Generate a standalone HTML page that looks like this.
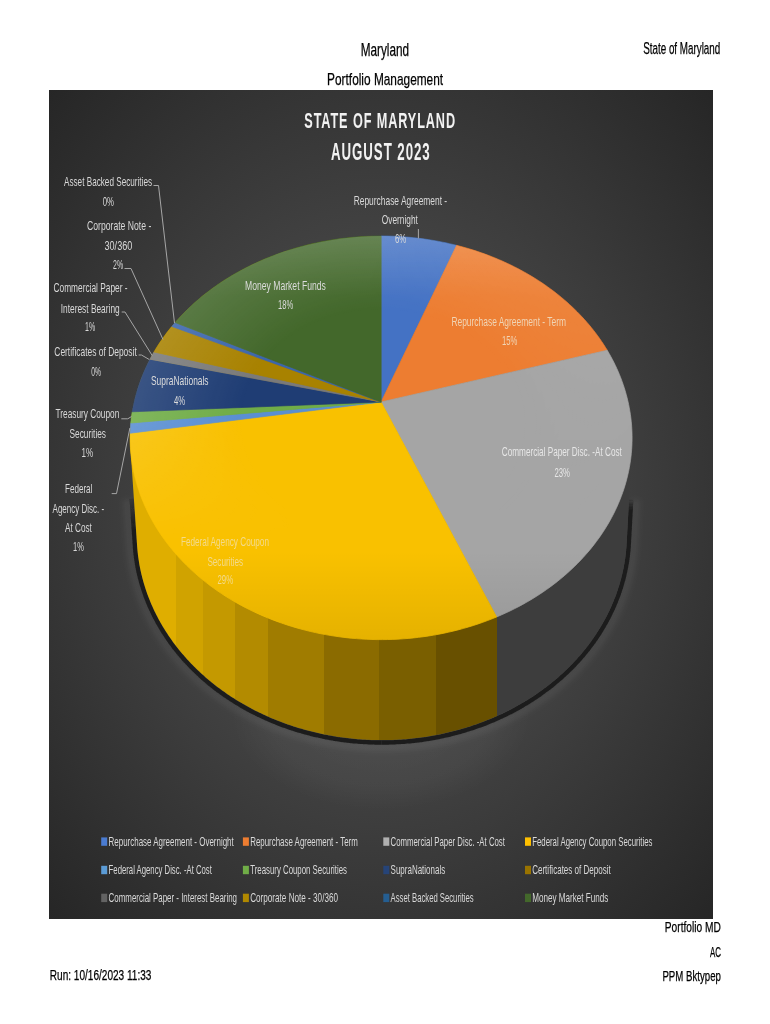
<!DOCTYPE html><html><head><meta charset="utf-8"><style>html,body{margin:0;padding:0;background:#fff;}svg{display:block;will-change:transform;}text{font-family:"Liberation Sans",sans-serif;}</style></head><body>
<svg width="770" height="1024" viewBox="0 0 770 1024">
<defs>
<radialGradient id="bg" cx="0.5" cy="0.5" r="0.7071" fx="0.5" fy="0.5"><stop offset="0" stop-color="#595959"/><stop offset="1" stop-color="#262626"/></radialGradient>
<linearGradient id="side" gradientUnits="userSpaceOnUse" x1="125" y1="0" x2="640" y2="0"><stop offset="0.0097" stop-color="#dfae00"/><stop offset="0.0981" stop-color="#dfae00"/><stop offset="0.0981" stop-color="#d0a300"/><stop offset="0.1509" stop-color="#d0a300"/><stop offset="0.1509" stop-color="#c49900"/><stop offset="0.2140" stop-color="#c49900"/><stop offset="0.2140" stop-color="#b38b00"/><stop offset="0.2771" stop-color="#b38b00"/><stop offset="0.2771" stop-color="#a07c00"/><stop offset="0.3872" stop-color="#a07c00"/><stop offset="0.3872" stop-color="#8b6b00"/><stop offset="0.4932" stop-color="#8b6b00"/><stop offset="0.4932" stop-color="#7a5f00"/><stop offset="0.6045" stop-color="#7a5f00"/><stop offset="0.6045" stop-color="#685000"/><stop offset="0.7219" stop-color="#685000"/><stop offset="0.7219" stop-color="#3d3d3d"/><stop offset="1.0000" stop-color="#3d3d3d"/><stop offset="1.0000" stop-color="#3d3d3d"/></linearGradient>
<filter id="blur1" x="-10%" y="-10%" width="120%" height="120%"><feGaussianBlur stdDeviation="0.5"/></filter>
<radialGradient id="glow"><stop offset="0" stop-color="#fff" stop-opacity="0.05"/><stop offset="0.75" stop-color="#fff" stop-opacity="0.03"/><stop offset="1" stop-color="#fff" stop-opacity="0"/></radialGradient>
<filter id="blur3" x="-10%" y="-10%" width="120%" height="120%"><feGaussianBlur stdDeviation="2.5"/></filter>
<linearGradient id="lit" gradientUnits="userSpaceOnUse" x1="0" y1="236" x2="0" y2="640"><stop offset="0" stop-color="#fff" stop-opacity="0.08"/><stop offset="0.15" stop-color="#fff" stop-opacity="0"/><stop offset="0.78" stop-color="#000" stop-opacity="0"/><stop offset="1" stop-color="#000" stop-opacity="0.08"/></linearGradient>
<radialGradient id="rimW" gradientUnits="userSpaceOnUse" cx="381.1" cy="437.8" r="251.0" fx="381.1" fy="393.27" gradientTransform="translate(381.1,437.8) scale(1,0.80398) translate(-381.1,-437.8)"><stop offset="0" stop-color="#fff" stop-opacity="0"/><stop offset="0.55" stop-color="#fff" stop-opacity="0"/><stop offset="1" stop-color="#fff" stop-opacity="0.12"/></radialGradient>
<radialGradient id="cenD" gradientUnits="userSpaceOnUse" cx="381.1" cy="437.8" r="251.0" fx="381.1" fy="393.27" gradientTransform="translate(381.1,437.8) scale(1,0.80398) translate(-381.1,-437.8)"><stop offset="0" stop-color="#000" stop-opacity="0.07"/><stop offset="0.5" stop-color="#000" stop-opacity="0"/></radialGradient>
<linearGradient id="bmg" gradientUnits="userSpaceOnUse" x1="0" y1="420" x2="0" y2="540"><stop offset="0" stop-color="#fff"/><stop offset="1" stop-color="#000"/></linearGradient>
<mask id="bm" maskUnits="userSpaceOnUse" x="0" y="0" width="770" height="1024"><rect x="0" y="0" width="770" height="1024" fill="url(#bmg)"/></mask>
<linearGradient id="dmg" gradientUnits="userSpaceOnUse" x1="200" y1="250" x2="600" y2="520"><stop offset="0" stop-color="#fff"/><stop offset="0.3" stop-color="#fff"/><stop offset="1" stop-color="#000"/></linearGradient>
<mask id="dm" maskUnits="userSpaceOnUse" x="0" y="0" width="770" height="1024"><rect x="0" y="0" width="770" height="1024" fill="url(#dmg)"/></mask>
<linearGradient id="shgL" gradientUnits="userSpaceOnUse" x1="0" y1="488" x2="0" y2="530"><stop offset="0" stop-color="#1c1c1c" stop-opacity="0"/><stop offset="1" stop-color="#1c1c1c" stop-opacity="1"/></linearGradient>
<linearGradient id="shgR" gradientUnits="userSpaceOnUse" x1="0" y1="499" x2="0" y2="510"><stop offset="0" stop-color="#1c1c1c" stop-opacity="0"/><stop offset="1" stop-color="#1c1c1c" stop-opacity="1"/></linearGradient>
</defs>
<rect x="0" y="0" width="770" height="1024" fill="#fff"/>
<rect x="49" y="90" width="664" height="829" fill="url(#bg)"/>
<ellipse cx="381" cy="715" rx="150" ry="95" fill="url(#glow)"/>
<path d="M636.04,499.64 L635.93,501.64 L635.82,503.65 L635.71,505.66 L635.60,507.66 L635.50,509.67 L635.39,511.67 L635.28,513.68 L635.17,515.69 L635.06,517.69 L634.96,519.70 L634.85,521.70 L634.74,523.71 L634.63,525.72 L634.52,527.72 L634.41,529.73 L634.31,531.73 L634.20,533.74 L634.09,535.75 L633.98,537.75 L633.87,539.76 L633.76,541.77 L633.66,543.80 L633.55,545.64 L633.42,547.50 L633.28,549.36 L633.11,551.23 L632.93,553.10 L632.73,554.96 L632.50,556.82 L632.26,558.68 L632.00,560.54 L631.72,562.40 L631.42,564.25 L631.10,566.10 L630.76,567.95 L630.40,569.80 L630.03,571.64 L629.63,573.48 L629.22,575.32 L628.78,577.16 L628.33,578.99 L627.86,580.81 L627.37,582.64 L626.86,584.46 L626.33,586.27 L625.78,588.09 L625.22,589.89 L624.63,591.70 L624.03,593.49 L623.41,595.29 L622.77,597.08 L622.11,598.86 L621.43,600.64 L620.74,602.42 L620.02,604.18 L619.29,605.95 L618.54,607.70 L617.78,609.46 L616.99,611.20 L616.18,612.94 L615.36,614.67 L614.52,616.40 L613.67,618.12 L612.79,619.84 L611.90,621.54 L610.99,623.24 L610.06,624.94 L609.11,626.62 L608.15,628.30 L607.17,629.97 L606.17,631.64 L605.16,633.30 L604.13,634.94 L603.08,636.59 L602.01,638.22 L600.93,639.84 L599.83,641.46 L598.72,643.07 L597.59,644.67 L596.44,646.26 L595.28,647.84 L594.10,649.42 L592.90,650.98 L591.69,652.54 L590.46,654.08 L589.21,655.62 L587.95,657.15 L586.68,658.67 L585.39,660.18 L584.08,661.68 L582.76,663.16 L581.42,664.64 L580.07,666.11 L578.70,667.57 L577.32,669.02 L575.93,670.46 L574.51,671.89 L573.09,673.30 L571.65,674.71 L570.19,676.10 L568.72,677.49 L567.24,678.86 L565.74,680.23 L564.23,681.58 L562.71,682.92 L561.17,684.25 L559.62,685.56 L558.05,686.87 L556.47,688.16 L554.88,689.44 L553.28,690.71 L551.66,691.97 L550.03,693.22 L548.39,694.45 L546.73,695.67 L545.06,696.88 L543.38,698.08 L541.69,699.26 L539.99,700.43 L538.27,701.59 L536.54,702.74 L534.80,703.87 L533.05,704.99 L531.29,706.10 L529.52,707.19 L527.73,708.27 L525.94,709.34 L524.13,710.39 L522.31,711.44 L520.49,712.46 L518.65,713.48 L516.80,714.48 L514.94,715.46 L513.07,716.44 L511.19,717.40 L509.31,718.34 L507.41,719.27 L505.50,720.19 L503.59,721.09 L501.66,721.98 L499.73,722.85 L497.78,723.71 L495.83,724.56 L493.87,725.39 L491.90,726.21 L489.93,727.01 L487.94,727.80 L485.95,728.57 L483.95,729.33 L481.94,730.07 L479.92,730.80 L477.90,731.51 L475.87,732.21 L473.83,732.90 L471.79,733.57 L469.74,734.22 L467.68,734.86 L465.61,735.48 L463.54,736.09 L461.47,736.68 L459.39,737.26 L457.30,737.82 L455.20,738.37 L453.10,738.90 L451.00,739.42 L448.89,739.92 L446.78,740.40 L444.66,740.87 L442.53,741.33 L440.40,741.76 L438.27,742.19 L436.13,742.59 L433.99,742.98 L431.85,743.36 L429.70,743.72 L427.54,744.06 L425.39,744.39 L423.23,744.70 L421.07,745.00 L418.90,745.28 L416.73,745.54 L414.56,745.79 L412.39,746.03 L410.21,746.24 L408.04,746.44 L405.86,746.63 L403.68,746.80 L401.49,746.95 L399.31,747.09 L397.12,747.21 L394.94,747.31 L392.75,747.40 L390.56,747.47 L388.37,747.53 L386.18,747.57 L383.99,747.59 L381.80,747.60 L379.61,747.59 L377.42,747.57 L375.23,747.53 L373.04,747.47 L370.85,747.40 L368.66,747.31 L366.48,747.21 L364.29,747.09 L362.11,746.95 L359.92,746.80 L357.74,746.63 L355.56,746.44 L353.39,746.24 L351.21,746.03 L349.04,745.79 L346.87,745.54 L344.70,745.28 L342.53,745.00 L340.37,744.70 L338.21,744.39 L336.06,744.06 L333.90,743.72 L331.75,743.36 L329.61,742.98 L327.47,742.59 L325.33,742.19 L323.20,741.76 L321.07,741.33 L318.94,740.87 L316.82,740.40 L314.71,739.92 L312.60,739.42 L310.50,738.90 L308.40,738.37 L306.30,737.82 L304.21,737.26 L302.13,736.68 L300.06,736.09 L297.99,735.48 L295.92,734.86 L293.86,734.22 L291.81,733.57 L289.77,732.90 L287.73,732.21 L285.70,731.51 L283.68,730.80 L281.66,730.07 L279.65,729.33 L277.65,728.57 L275.66,727.80 L273.67,727.01 L271.70,726.21 L269.73,725.39 L267.77,724.56 L265.82,723.71 L263.87,722.85 L261.94,721.98 L260.01,721.09 L258.10,720.19 L256.19,719.27 L254.29,718.34 L252.41,717.40 L250.53,716.44 L248.66,715.46 L246.80,714.48 L244.95,713.48 L243.11,712.46 L241.29,711.44 L239.47,710.39 L237.66,709.34 L235.87,708.27 L234.08,707.19 L232.31,706.10 L230.55,704.99 L228.80,703.87 L227.06,702.74 L225.33,701.59 L223.61,700.43 L221.91,699.26 L220.22,698.08 L218.54,696.88 L216.87,695.67 L215.21,694.45 L213.57,693.22 L211.94,691.97 L210.32,690.71 L208.72,689.44 L207.13,688.16 L205.55,686.87 L203.98,685.56 L202.43,684.25 L200.89,682.92 L199.37,681.58 L197.86,680.23 L196.36,678.86 L194.88,677.49 L193.41,676.10 L191.95,674.71 L190.51,673.30 L189.09,671.89 L187.67,670.46 L186.28,669.02 L184.90,667.57 L183.53,666.11 L182.18,664.64 L180.84,663.16 L179.52,661.68 L178.21,660.18 L176.92,658.67 L175.65,657.15 L174.39,655.62 L173.14,654.08 L171.91,652.54 L170.70,650.98 L169.50,649.42 L168.32,647.84 L167.16,646.26 L166.01,644.67 L164.88,643.07 L163.77,641.46 L162.67,639.84 L161.59,638.22 L160.52,636.59 L159.47,634.94 L158.44,633.30 L157.43,631.64 L156.43,629.97 L155.45,628.30 L154.49,626.62 L153.54,624.94 L152.61,623.24 L151.70,621.54 L150.81,619.84 L149.93,618.12 L149.08,616.40 L148.24,614.67 L147.42,612.94 L146.61,611.20 L145.82,609.46 L145.06,607.70 L144.31,605.95 L143.58,604.18 L142.86,602.42 L142.17,600.64 L141.49,598.86 L140.83,597.08 L140.19,595.29 L139.57,593.49 L138.97,591.70 L138.38,589.89 L137.82,588.09 L137.27,586.27 L136.74,584.46 L136.23,582.64 L135.74,580.81 L135.27,578.99 L134.82,577.16 L134.38,575.32 L133.97,573.48 L133.57,571.64 L133.20,569.80 L132.84,567.95 L132.50,566.10 L132.18,564.25 L131.88,562.40 L131.60,560.54 L131.34,558.68 L131.10,556.82 L130.87,554.96 L130.67,553.10 L130.49,551.23 L130.32,549.36 L130.18,547.51 L130.04,545.48 L129.90,543.46 L129.76,541.46 L129.63,539.46 L129.49,537.45 L129.35,535.45 L129.21,533.45 L129.08,531.45 L128.94,529.44 L128.80,527.44 L128.67,525.44 L128.53,523.43 L128.39,521.43 L128.26,519.43 L128.12,517.43 L127.98,515.42 L127.84,513.42 L127.71,511.42 L127.57,509.42 L127.43,507.41 L127.30,505.41 L127.16,503.41 L127.02,501.41 L126.89,499.40" fill="none" stroke="#ffffff" stroke-opacity="0.05" stroke-width="8" filter="url(#blur3)"/>
<path d="M381.80,742.55 L379.65,742.54 L377.49,742.52 L375.34,742.48 L373.18,742.42 L371.03,742.35 L368.88,742.27 L366.73,742.16 L364.58,742.04 L362.43,741.91 L360.28,741.76 L358.13,741.59 L355.99,741.41 L353.85,741.21 L351.71,741.00 L349.57,740.77 L347.44,740.53 L345.30,740.27 L343.17,739.99 L341.05,739.70 L338.92,739.39 L336.80,739.07 L334.69,738.73 L332.57,738.38 L330.46,738.01 L328.36,737.63 L326.25,737.23 L324.16,736.81 L322.06,736.38 L319.97,735.93 L317.89,735.47 L315.81,734.99 L313.74,734.50 L311.67,733.99 L309.60,733.47 L307.55,732.93 L305.49,732.38 L303.45,731.81 L301.41,731.23 L299.37,730.63 L297.34,730.02 L295.32,729.39 L293.30,728.75 L291.29,728.09 L289.29,727.42 L287.30,726.73 L285.31,726.03 L283.33,725.32 L281.35,724.59 L279.39,723.84 L277.43,723.08 L275.48,722.31 L273.54,721.52 L271.61,720.72 L269.68,719.90 L267.76,719.07 L265.85,718.23 L263.96,717.37 L262.06,716.50 L260.18,715.61 L258.31,714.71 L256.45,713.79 L254.59,712.87 L252.75,711.93 L250.92,710.97 L249.09,710.00 L247.28,709.02 L245.47,708.03 L243.68,707.02 L241.90,706.00 L240.13,704.96 L238.36,703.91 L236.61,702.85 L234.87,701.78 L233.14,700.69 L231.43,699.60 L229.72,698.48 L228.03,697.36 L226.34,696.22 L224.67,695.08 L223.01,693.91 L221.37,692.74 L219.73,691.56 L218.11,690.36 L216.50,689.15 L214.90,687.93 L213.32,686.70 L211.74,685.45 L210.18,684.20 L208.64,682.93 L207.10,681.65 L205.58,680.36 L204.08,679.06 L202.58,677.75 L201.11,676.42 L199.64,675.09 L198.19,673.75 L196.75,672.39 L195.33,671.02 L193.92,669.65 L192.52,668.26 L191.14,666.86 L189.77,665.46 L188.42,664.04 L187.08,662.61 L185.76,661.18 L184.45,659.73 L183.16,658.27 L181.88,656.81 L180.62,655.33 L179.37,653.85 L178.14,652.35 L176.93,650.85 L175.72,649.34 L174.54,647.82 L173.37,646.29 L172.22,644.75 L171.08,643.21 L169.96,641.65 L168.85,640.09 L167.76,638.52 L166.69,636.94 L165.64,635.35 L164.60,633.76 L163.57,632.15 L162.57,630.54 L161.58,628.93 L160.60,627.30 L159.65,625.67 L158.71,624.03 L157.78,622.39 L156.88,620.73 L155.99,619.07 L155.12,617.41 L154.26,615.74 L153.43,614.06 L152.61,612.37 L151.81,610.68 L151.02,608.99 L150.26,607.29 L149.51,605.58 L148.78,603.87 L148.06,602.15 L147.37,600.42 L146.69,598.69 L146.03,596.96 L145.39,595.22 L144.77,593.48 L144.16,591.73 L143.57,589.98 L143.00,588.22 L142.45,586.46 L141.92,584.70 L141.40,582.93 L140.91,581.15 L140.43,579.38 L139.97,577.60 L139.53,575.82 L139.11,574.03 L138.70,572.24 L138.32,570.45 L137.95,568.65 L137.60,566.85 L137.28,565.05 L136.96,563.25 L136.67,561.45 L136.40,559.64 L136.14,557.83 L135.91,556.02 L135.69,554.21 L135.49,552.39 L135.31,550.58 L135.15,548.76 L135.01,546.95 L134.88,544.94 L134.74,542.93 L134.60,540.93 L134.46,538.92 L134.33,536.92 L134.19,534.92 L134.05,532.92 L133.92,530.91 L133.78,528.91 L133.64,526.91 L133.51,524.91 L133.37,522.90 L133.23,520.90 L133.09,518.90 L132.96,516.90 L132.82,514.89 L132.68,512.89 L132.55,510.89 L132.41,508.89 L132.27,506.88 L132.14,504.88 L132.00,502.88 L131.86,500.88 L131.72,498.87" fill="none" stroke="url(#shgL)" stroke-width="4.4" stroke-linecap="butt" filter="url(#blur1)"/>
<path d="M631.19,499.18 L631.09,501.18 L630.98,503.19 L630.87,505.19 L630.76,507.20 L630.65,509.21 L630.55,511.21 L630.44,513.22 L630.33,515.22 L630.22,517.23 L630.11,519.24 L630.00,521.24 L629.90,523.25 L629.79,525.26 L629.68,527.26 L629.57,529.27 L629.46,531.27 L629.35,533.28 L629.25,535.29 L629.14,537.29 L629.03,539.30 L628.92,541.31 L628.81,543.32 L628.71,545.13 L628.59,546.94 L628.45,548.76 L628.29,550.58 L628.11,552.39 L627.91,554.21 L627.69,556.02 L627.46,557.83 L627.20,559.64 L626.93,561.45 L626.64,563.25 L626.32,565.05 L626.00,566.85 L625.65,568.65 L625.28,570.45 L624.90,572.24 L624.49,574.03 L624.07,575.82 L623.63,577.60 L623.17,579.38 L622.69,581.15 L622.20,582.93 L621.68,584.70 L621.15,586.46 L620.60,588.22 L620.03,589.98 L619.44,591.73 L618.83,593.48 L618.21,595.22 L617.57,596.96 L616.91,598.69 L616.23,600.42 L615.54,602.15 L614.82,603.87 L614.09,605.58 L613.34,607.29 L612.58,608.99 L611.79,610.68 L610.99,612.37 L610.17,614.06 L609.34,615.74 L608.48,617.41 L607.61,619.07 L606.72,620.73 L605.82,622.39 L604.89,624.03 L603.95,625.67 L603.00,627.30 L602.02,628.93 L601.03,630.54 L600.03,632.15 L599.00,633.76 L597.96,635.35 L596.91,636.94 L595.84,638.52 L594.75,640.09 L593.64,641.65 L592.52,643.21 L591.38,644.75 L590.23,646.29 L589.06,647.82 L587.88,649.34 L586.67,650.85 L585.46,652.35 L584.23,653.85 L582.98,655.33 L581.72,656.81 L580.44,658.27 L579.15,659.73 L577.84,661.18 L576.52,662.61 L575.18,664.04 L573.83,665.46 L572.46,666.86 L571.08,668.26 L569.68,669.65 L568.27,671.02 L566.85,672.39 L565.41,673.75 L563.96,675.09 L562.49,676.42 L561.02,677.75 L559.52,679.06 L558.02,680.36 L556.50,681.65 L554.96,682.93 L553.42,684.20 L551.86,685.45 L550.28,686.70 L548.70,687.93 L547.10,689.15 L545.49,690.36 L543.87,691.56 L542.23,692.74 L540.59,693.91 L538.93,695.08 L537.26,696.22 L535.57,697.36 L533.88,698.48 L532.17,699.60 L530.46,700.69 L528.73,701.78 L526.99,702.85 L525.24,703.91 L523.47,704.96 L521.70,706.00 L519.92,707.02 L518.13,708.03 L516.32,709.02 L514.51,710.00 L512.68,710.97 L510.85,711.93 L509.01,712.87 L507.15,713.79 L505.29,714.71 L503.42,715.61 L501.54,716.50 L499.64,717.37 L497.75,718.23 L495.84,719.07 L493.92,719.90 L491.99,720.72 L490.06,721.52 L488.12,722.31 L486.17,723.08 L484.21,723.84 L482.25,724.59 L480.27,725.32 L478.29,726.03 L476.30,726.73 L474.31,727.42 L472.31,728.09 L470.30,728.75 L468.28,729.39 L466.26,730.02 L464.23,730.63 L462.19,731.23 L460.15,731.81 L458.11,732.38 L456.05,732.93 L454.00,733.47 L451.93,733.99 L449.86,734.50 L447.79,734.99 L445.71,735.47 L443.63,735.93 L441.54,736.38 L439.44,736.81 L437.35,737.23 L435.24,737.63 L433.14,738.01 L431.03,738.38 L428.91,738.73 L426.80,739.07 L424.68,739.39 L422.55,739.70 L420.43,739.99 L418.30,740.27 L416.16,740.53 L414.03,740.77 L411.89,741.00 L409.75,741.21 L407.61,741.41 L405.47,741.59 L403.32,741.76 L401.17,741.91 L399.02,742.04 L396.87,742.16 L394.72,742.27 L392.57,742.35 L390.42,742.42 L388.26,742.48 L386.11,742.52 L383.95,742.54 L381.80,742.55" fill="none" stroke="url(#shgR)" stroke-width="4.4" stroke-linecap="butt" filter="url(#blur1)"/>
<path d="M137.30,548.28 L137.16,546.49 L130.44,448.36 L130.34,446.60 L130.25,444.84 L130.19,443.08 L130.14,441.32 L130.11,439.56 L130.10,437.80 L130.11,436.04 L130.14,434.28 L130.19,432.52 L130.25,430.76 L130.34,429.00 L130.44,427.24 L130.57,425.48 L130.71,423.72 L130.87,421.97 L131.06,420.21 L131.26,418.46 L131.48,416.71 L131.71,414.96 L131.97,413.21 L132.25,411.46 L132.54,409.71 L132.86,407.97 L133.19,406.23 L133.54,404.49 L133.91,402.76 L134.30,401.02 L134.71,399.29 L135.14,397.57 L135.58,395.84 L136.05,394.12 L136.53,392.40 L137.04,390.69 L137.56,388.98 L138.09,387.27 L138.65,385.57 L139.23,383.87 L139.82,382.18 L140.44,380.49 L141.07,378.80 L141.72,377.12 L142.38,375.44 L143.07,373.77 L143.77,372.10 L144.50,370.44 L145.24,368.78 L146.00,367.13 L146.77,365.48 L147.57,363.84 L148.38,362.20 L149.21,360.57 L150.05,358.95 L150.92,357.33 L151.80,355.72 L152.70,354.11 L153.62,352.52 L154.55,350.92 L155.50,349.34 L156.47,347.76 L157.46,346.18 L158.46,344.62 L159.48,343.06 L160.52,341.51 L161.57,339.97 L162.64,338.43 L163.73,336.90 L164.83,335.38 L165.95,333.87 L167.09,332.36 L168.24,330.86 L169.41,329.37 L170.59,327.89 L171.79,326.42 L173.01,324.95 L174.24,323.50 L175.49,322.05 L176.76,320.61 L178.04,319.18 L179.33,317.76 L180.64,316.35 L181.97,314.95 L183.31,313.56 L184.67,312.18 L186.04,310.80 L187.42,309.44 L188.82,308.09 L190.24,306.74 L191.67,305.41 L193.11,304.08 L194.57,302.77 L196.04,301.47 L197.53,300.17 L199.03,298.89 L200.55,297.62 L202.07,296.36 L203.62,295.11 L205.17,293.87 L206.74,292.64 L208.32,291.42 L209.92,290.21 L211.53,289.02 L213.15,287.83 L214.78,286.66 L216.43,285.50 L218.09,284.35 L219.76,283.21 L221.44,282.09 L223.14,280.97 L224.85,279.87 L226.57,278.78 L228.30,277.70 L230.04,276.64 L231.80,275.58 L233.57,274.54 L235.34,273.51 L237.13,272.50 L238.93,271.49 L240.74,270.50 L242.56,269.52 L244.40,268.56 L246.24,267.60 L248.09,266.66 L249.95,265.74 L251.83,264.82 L253.71,263.92 L255.60,263.04 L257.50,262.16 L259.41,261.30 L261.33,260.45 L263.26,259.62 L265.20,258.80 L267.15,257.99 L269.10,257.20 L271.07,256.42 L273.04,255.66 L275.02,254.91 L277.01,254.17 L279.01,253.45 L281.01,252.74 L283.03,252.04 L285.05,251.36 L287.07,250.69 L289.11,250.04 L291.15,249.40 L293.20,248.78 L295.25,248.17 L297.31,247.57 L299.38,246.99 L301.46,246.43 L303.54,245.88 L305.62,245.34 L307.71,244.82 L309.81,244.31 L311.92,243.82 L314.02,243.34 L316.14,242.88 L318.25,242.43 L320.38,241.99 L322.51,241.58 L324.64,241.17 L326.77,240.78 L328.91,240.41 L331.06,240.05 L333.21,239.71 L335.36,239.38 L337.51,239.07 L339.67,238.77 L341.83,238.48 L344.00,238.22 L346.17,237.96 L348.34,237.73 L350.51,237.50 L352.69,237.30 L354.86,237.11 L357.04,236.93 L359.22,236.77 L361.41,236.62 L363.59,236.49 L365.78,236.38 L367.96,236.28 L370.15,236.19 L372.34,236.12 L374.53,236.07 L376.72,236.03 L378.91,236.01 L381.10,236.00 L383.29,236.01 L385.48,236.03 L387.67,236.07 L389.86,236.12 L392.05,236.19 L394.24,236.28 L396.42,236.38 L398.61,236.49 L400.79,236.62 L402.98,236.77 L405.16,236.93 L407.34,237.11 L409.51,237.30 L411.69,237.50 L413.86,237.73 L416.03,237.96 L418.20,238.22 L420.37,238.48 L422.53,238.77 L424.69,239.07 L426.84,239.38 L428.99,239.71 L431.14,240.05 L433.29,240.41 L435.43,240.78 L437.56,241.17 L439.69,241.58 L441.82,241.99 L443.95,242.43 L446.06,242.88 L448.18,243.34 L450.28,243.82 L452.39,244.31 L454.49,244.82 L456.58,245.34 L458.66,245.88 L460.74,246.43 L462.82,246.99 L464.89,247.57 L466.95,248.17 L469.00,248.78 L471.05,249.40 L473.09,250.04 L475.13,250.69 L477.15,251.36 L479.17,252.04 L481.19,252.74 L483.19,253.45 L485.19,254.17 L487.18,254.91 L489.16,255.66 L491.13,256.42 L493.10,257.20 L495.05,257.99 L497.00,258.80 L498.94,259.62 L500.87,260.45 L502.79,261.30 L504.70,262.16 L506.60,263.04 L508.49,263.92 L510.37,264.82 L512.25,265.74 L514.11,266.66 L515.96,267.60 L517.80,268.56 L519.64,269.52 L521.46,270.50 L523.27,271.49 L525.07,272.50 L526.86,273.51 L528.63,274.54 L530.40,275.58 L532.16,276.64 L533.90,277.70 L535.63,278.78 L537.35,279.87 L539.06,280.97 L540.76,282.09 L542.44,283.21 L544.11,284.35 L545.77,285.50 L547.42,286.66 L549.05,287.83 L550.67,289.02 L552.28,290.21 L553.88,291.42 L555.46,292.64 L557.03,293.87 L558.58,295.11 L560.13,296.36 L561.65,297.62 L563.17,298.89 L564.67,300.17 L566.16,301.47 L567.63,302.77 L569.09,304.08 L570.53,305.41 L571.96,306.74 L573.38,308.09 L574.78,309.44 L576.16,310.80 L577.53,312.18 L578.89,313.56 L580.23,314.95 L581.56,316.35 L582.87,317.76 L584.16,319.18 L585.44,320.61 L586.71,322.05 L587.96,323.50 L589.19,324.95 L590.41,326.42 L591.61,327.89 L592.79,329.37 L593.96,330.86 L595.11,332.36 L596.25,333.87 L597.37,335.38 L598.47,336.90 L599.56,338.43 L600.63,339.97 L601.68,341.51 L602.72,343.06 L603.74,344.62 L604.74,346.18 L605.73,347.76 L606.70,349.34 L607.65,350.92 L608.58,352.52 L609.50,354.11 L610.40,355.72 L611.28,357.33 L612.15,358.95 L612.99,360.57 L613.82,362.20 L614.63,363.84 L615.43,365.48 L616.20,367.13 L616.96,368.78 L617.70,370.44 L618.43,372.10 L619.13,373.77 L619.82,375.44 L620.48,377.12 L621.13,378.80 L621.76,380.49 L622.38,382.18 L622.97,383.87 L623.55,385.57 L624.11,387.27 L624.64,388.98 L625.16,390.69 L625.67,392.40 L626.15,394.12 L626.62,395.84 L627.06,397.57 L627.49,399.29 L627.90,401.02 L628.29,402.76 L628.66,404.49 L629.01,406.23 L629.34,407.97 L629.66,409.71 L629.95,411.46 L630.23,413.21 L630.49,414.96 L630.72,416.71 L630.94,418.46 L631.14,420.21 L631.33,421.97 L631.49,423.72 L631.63,425.48 L631.76,427.24 L631.86,429.00 L631.95,430.76 L632.01,432.52 L632.06,434.28 L632.09,436.04 L632.10,437.80 L632.09,439.56 L632.06,441.32 L632.01,443.08 L631.95,444.84 L631.86,446.60 L626.67,542.89 L626.56,544.69 L626.44,546.49 L626.30,548.28 L626.14,550.08 L625.97,551.87 L625.77,553.66 L625.56,555.45 L625.32,557.24 L625.07,559.03 L624.80,560.81 L624.51,562.60 L624.21,564.38 L623.88,566.16 L623.54,567.93 L623.18,569.71 L622.80,571.48 L622.40,573.24 L621.98,575.01 L621.54,576.77 L621.09,578.53 L620.62,580.28 L620.13,582.04 L619.62,583.78 L619.09,585.53 L618.55,587.27 L617.99,589.00 L617.41,590.74 L616.81,592.46 L616.19,594.19 L615.56,595.91 L614.90,597.62 L614.23,599.33 L613.55,601.03 L612.84,602.73 L612.12,604.42 L611.38,606.11 L610.62,607.80 L609.85,609.47 L609.05,611.14 L608.24,612.81 L607.42,614.47 L606.57,616.12 L605.71,617.77 L604.83,619.41 L603.94,621.04 L603.02,622.67 L602.09,624.29 L601.15,625.91 L600.19,627.51 L599.21,629.11 L598.21,630.71 L597.20,632.29 L596.17,633.87 L595.12,635.44 L594.06,637.00 L592.99,638.55 L591.89,640.10 L590.78,641.64 L589.66,643.17 L588.52,644.69 L587.36,646.20 L586.19,647.71 L585.00,649.21 L583.79,650.69 L582.57,652.17 L581.34,653.64 L580.09,655.10 L578.83,656.55 L577.55,657.99 L576.25,659.43 L574.94,660.85 L573.62,662.26 L572.28,663.67 L570.93,665.06 L569.56,666.44 L568.18,667.82 L566.78,669.18 L565.37,670.53 L563.94,671.87 L562.51,673.21 L561.05,674.53 L559.59,675.84 L558.11,677.14 L556.62,678.43 L555.11,679.71 L553.59,680.97 L552.06,682.23 L550.52,683.47 L548.96,684.71 L547.39,685.93 L545.80,687.14 L544.21,688.33 L542.60,689.52 L540.98,690.70 L539.35,691.86 L537.70,693.01 L536.05,694.15 L534.38,695.27 L532.70,696.39 L531.01,697.49 L529.30,698.58 L527.59,699.66 L525.87,700.72 L524.13,701.77 L522.38,702.81 L520.63,703.83 L518.86,704.85 L517.08,705.85 L515.29,706.83 L513.49,707.81 L511.68,708.77 L509.86,709.71 L508.04,710.65 L506.20,711.57 L504.35,712.47 L502.49,713.37 L500.63,714.25 L498.75,715.11 L496.87,715.96 L494.97,716.80 L493.07,717.63 L491.16,718.44 L489.24,719.23 L487.32,720.01 L485.38,720.78 L483.44,721.53 L481.49,722.27 L479.53,723.00 L477.57,723.71 L475.60,724.40 L473.62,725.09 L471.63,725.75 L469.64,726.40 L467.64,727.04 L465.63,727.66 L463.62,728.27 L461.60,728.87 L459.57,729.44 L457.54,730.01 L455.50,730.56 L453.46,731.09 L451.41,731.61 L449.36,732.11 L447.30,732.60 L445.24,733.07 L443.17,733.53 L441.10,733.97 L439.02,734.40 L436.94,734.82 L434.85,735.21 L432.76,735.59 L430.67,735.96 L428.57,736.31 L426.47,736.65 L424.36,736.97 L422.25,737.27 L420.14,737.56 L418.03,737.84 L415.91,738.09 L413.79,738.34 L411.67,738.56 L409.55,738.77 L407.42,738.97 L405.29,739.15 L403.16,739.32 L401.03,739.46 L398.90,739.60 L396.76,739.72 L394.63,739.82 L392.49,739.90 L390.35,739.97 L388.22,740.03 L386.08,740.07 L383.94,740.09 L381.80,740.10 L379.66,740.09 L377.52,740.07 L375.38,740.03 L373.25,739.97 L371.11,739.90 L368.97,739.82 L366.84,739.72 L364.70,739.60 L362.57,739.46 L360.44,739.32 L358.31,739.15 L356.18,738.97 L354.05,738.77 L351.93,738.56 L349.81,738.34 L347.69,738.09 L345.57,737.84 L343.46,737.56 L341.35,737.27 L339.24,736.97 L337.13,736.65 L335.03,736.31 L332.93,735.96 L330.84,735.59 L328.75,735.21 L326.66,734.82 L324.58,734.40 L322.50,733.97 L320.43,733.53 L318.36,733.07 L316.30,732.60 L314.24,732.11 L312.19,731.61 L310.14,731.09 L308.10,730.56 L306.06,730.01 L304.03,729.44 L302.00,728.87 L299.98,728.27 L297.97,727.66 L295.96,727.04 L293.96,726.40 L291.97,725.75 L289.98,725.09 L288.00,724.40 L286.03,723.71 L284.07,723.00 L282.11,722.27 L280.16,721.53 L278.22,720.78 L276.28,720.01 L274.36,719.23 L272.44,718.44 L270.53,717.63 L268.63,716.80 L266.73,715.96 L264.85,715.11 L262.97,714.25 L261.11,713.37 L259.25,712.47 L257.40,711.57 L255.56,710.65 L253.74,709.71 L251.92,708.77 L250.11,707.81 L248.31,706.83 L246.52,705.85 L244.74,704.85 L242.97,703.83 L241.22,702.81 L239.47,701.77 L237.73,700.72 L236.01,699.66 L234.30,698.58 L232.59,697.49 L230.90,696.39 L229.22,695.27 L227.55,694.15 L225.90,693.01 L224.25,691.86 L222.62,690.70 L221.00,689.52 L219.39,688.33 L217.80,687.14 L216.21,685.93 L214.64,684.71 L213.08,683.47 L211.54,682.23 L210.01,680.97 L208.49,679.71 L206.98,678.43 L205.49,677.14 L204.01,675.84 L202.55,674.53 L201.09,673.21 L199.66,671.87 L198.23,670.53 L196.82,669.18 L195.42,667.82 L194.04,666.44 L192.67,665.06 L191.32,663.67 L189.98,662.26 L188.66,660.85 L187.35,659.43 L186.05,657.99 L184.77,656.55 L183.51,655.10 L182.26,653.64 L181.03,652.17 L179.81,650.69 L178.60,649.21 L177.41,647.71 L176.24,646.20 L175.08,644.69 L173.94,643.17 L172.82,641.64 L171.71,640.10 L170.61,638.55 L169.54,637.00 L168.48,635.44 L167.43,633.87 L166.40,632.29 L165.39,630.71 L164.39,629.11 L163.41,627.51 L162.45,625.91 L161.51,624.29 L160.58,622.67 L159.66,621.04 L158.77,619.41 L157.89,617.77 L157.03,616.12 L156.18,614.47 L155.36,612.81 L154.55,611.14 L153.75,609.47 L152.98,607.80 L152.22,606.11 L151.48,604.42 L150.76,602.73 L150.05,601.03 L149.37,599.33 L148.70,597.62 L148.04,595.91 L147.41,594.19 L146.79,592.46 L146.19,590.74 L145.61,589.00 L145.05,587.27 L144.51,585.53 L143.98,583.78 L143.47,582.04 L142.98,580.28 L142.51,578.53 L142.06,576.77 L141.62,575.01 L141.20,573.24 L140.80,571.48 L140.42,569.71 L140.06,567.93 L139.72,566.16 L139.39,564.38 L139.09,562.60 L138.80,560.81 L138.53,559.03 L138.28,557.24 L138.04,555.45 L137.83,553.66 L137.63,551.87 L137.46,550.08 Z" fill="url(#side)"/>
<path d="M381.10,402.00 L381.10,236.00 L384.74,236.02 L388.38,236.08 L392.02,236.19 L395.66,236.34 L399.29,236.53 L402.92,236.76 L406.55,237.04 L410.17,237.36 L413.79,237.72 L417.40,238.12 L421.01,238.57 L424.61,239.05 L428.21,239.58 L431.79,240.16 L435.37,240.77 L438.94,241.43 L442.49,242.13 L446.04,242.87 L449.58,243.66 L453.10,244.48 L456.62,245.35 Z" fill="#4472C4" stroke="#4472C4" stroke-width="0.7" stroke-linejoin="round"/>
<path d="M381.10,402.00 L456.62,245.35 L460.14,246.27 L463.64,247.22 L467.13,248.23 L470.61,249.27 L474.07,250.35 L477.51,251.48 L480.94,252.65 L484.35,253.87 L487.74,255.12 L491.11,256.42 L494.47,257.76 L497.80,259.14 L501.11,260.56 L504.40,262.03 L507.66,263.54 L510.91,265.08 L514.12,266.68 L517.32,268.31 L520.49,269.98 L523.63,271.70 L526.74,273.45 L529.83,275.25 L532.89,277.09 L535.92,278.96 L538.91,280.88 L541.88,282.84 L544.82,284.84 L547.72,286.88 L550.59,288.97 L553.43,291.09 L556.23,293.25 L558.99,295.44 L561.72,297.68 L564.41,299.96 L567.06,302.28 L569.68,304.63 L572.25,307.02 L574.78,309.45 L577.27,311.92 L579.72,314.43 L582.12,316.97 L584.48,319.55 L586.79,322.17 L589.06,324.82 L591.28,327.51 L593.45,330.23 L595.58,332.99 L597.65,335.79 L599.67,338.61 L601.64,341.47 L603.56,344.37 L605.43,347.30 L607.24,350.26 Z" fill="#ED7D31" stroke="#ED7D31" stroke-width="0.7" stroke-linejoin="round"/>
<path d="M381.10,402.00 L607.24,350.26 L608.97,353.22 L610.65,356.21 L612.28,359.23 L613.84,362.28 L615.35,365.36 L616.80,368.46 L618.19,371.60 L619.52,374.76 L620.79,377.95 L622.00,381.17 L623.14,384.41 L624.22,387.68 L625.23,390.97 L626.17,394.28 L627.05,397.61 L627.87,400.97 L628.61,404.35 L629.28,407.75 L629.89,411.17 L630.42,414.60 L630.88,418.06 L631.26,421.53 L631.58,425.01 L631.81,428.51 L631.98,432.03 L632.07,435.55 L632.08,439.09 L632.01,442.64 L631.86,446.20 L631.64,449.77 L631.34,453.34 L630.95,456.92 L630.49,460.51 L629.94,464.10 L629.31,467.69 L628.60,471.28 L627.81,474.87 L626.93,478.47 L625.97,482.06 L624.93,485.64 L623.80,489.22 L622.58,492.80 L621.28,496.36 L619.89,499.92 L618.42,503.47 L616.86,507.00 L615.22,510.52 L613.49,514.03 L611.67,517.52 L609.76,520.99 L607.77,524.44 L605.70,527.87 L603.53,531.28 L601.28,534.66 L598.95,538.01 L596.52,541.34 L594.02,544.64 L591.42,547.91 L588.75,551.15 L585.99,554.35 L583.14,557.52 L580.21,560.65 L577.20,563.75 L574.11,566.80 L570.93,569.81 L567.68,572.77 L564.35,575.69 L560.93,578.57 L557.44,581.39 L553.88,584.17 L550.24,586.89 L546.52,589.57 L542.73,592.18 L538.87,594.74 L534.94,597.25 L530.94,599.69 L526.87,602.08 L522.73,604.40 L518.54,606.66 L514.27,608.85 L509.95,610.98 L505.57,613.04 L501.13,615.03 L496.63,616.95 Z" fill="#A5A5A5" stroke="#A5A5A5" stroke-width="0.7" stroke-linejoin="round"/>
<path d="M381.10,402.00 L496.63,616.95 L492.07,618.80 L487.45,620.59 L482.79,622.29 L478.08,623.93 L473.32,625.49 L468.51,626.97 L463.67,628.37 L458.78,629.69 L453.86,630.93 L448.90,632.10 L443.91,633.18 L438.89,634.18 L433.84,635.10 L428.76,635.93 L423.66,636.68 L418.54,637.34 L413.40,637.92 L408.25,638.42 L403.08,638.82 L397.90,639.15 L392.72,639.38 L387.52,639.53 L382.33,639.60 L377.13,639.58 L371.94,639.47 L366.75,639.27 L361.57,638.99 L356.39,638.62 L351.23,638.17 L346.09,637.63 L340.96,637.00 L335.85,636.29 L330.76,635.50 L325.70,634.62 L320.66,633.66 L315.66,632.62 L310.68,631.49 L305.74,630.29 L300.84,629.00 L295.98,627.64 L291.15,626.20 L286.37,624.67 L281.64,623.08 L276.95,621.40 L272.31,619.66 L267.72,617.84 L263.19,615.94 L258.71,613.98 L254.29,611.95 L249.93,609.85 L245.63,607.68 L241.39,605.44 L237.21,603.14 L233.11,600.78 L229.06,598.36 L225.09,595.88 L221.19,593.34 L217.36,590.74 L213.60,588.08 L209.92,585.38 L206.31,582.62 L202.78,579.80 L199.32,576.94 L195.95,574.04 L192.65,571.08 L189.43,568.08 L186.30,565.04 L183.25,561.96 L180.28,558.84 L177.39,555.68 L174.59,552.48 L171.87,549.25 L169.23,545.98 L166.68,542.69 L164.22,539.36 L161.85,536.01 L159.56,532.63 L157.35,529.22 L155.24,525.79 L153.21,522.34 L151.26,518.87 L149.41,515.38 L147.64,511.87 L145.96,508.35 L144.36,504.81 L142.85,501.26 L141.43,497.70 L140.09,494.13 L138.84,490.55 L137.68,486.96 L136.60,483.37 L135.61,479.77 L134.70,476.17 L133.87,472.57 L133.13,468.96 L132.47,465.36 L131.90,461.76 L131.40,458.17 L130.99,454.58 L130.66,450.99 L130.40,447.41 L130.23,443.84 L130.14,440.28 L130.12,436.73 L130.18,433.19 Z" fill="#f9c100" stroke="#f9c100" stroke-width="0.7" stroke-linejoin="round"/>
<path d="M381.10,402.00 L130.18,433.19 L130.32,429.78 L130.52,426.37 L130.80,422.99 Z" fill="#5a8fd2" stroke="#5a8fd2" stroke-width="0.7" stroke-linejoin="round"/>
<path d="M381.10,402.00 L130.80,422.99 L131.08,420.17 L131.41,417.36 L131.79,414.57 L132.21,411.78 Z" fill="#70AD47" stroke="#70AD47" stroke-width="0.7" stroke-linejoin="round"/>
<path d="M381.10,402.00 L132.21,411.78 L132.81,408.35 L133.47,404.94 L134.20,401.55 L135.00,398.18 L135.88,394.83 L136.81,391.50 L137.82,388.20 L138.89,384.92 L140.03,381.66 L141.23,378.43 L142.49,375.23 L143.81,372.05 L145.20,368.90 L146.65,365.78 L148.15,362.69 L149.72,359.62 Z" fill="#1f3d74" stroke="#1f3d74" stroke-width="0.7" stroke-linejoin="round"/>
<path d="M381.10,402.00 L149.95,359.18 L151.25,356.76 L152.58,354.36 L153.95,351.98 Z" fill="#7a7a7a" stroke="#7a7a7a" stroke-width="0.7" stroke-linejoin="round"/>
<path d="M381.10,402.00 L153.95,351.98 L155.72,349.01 L157.54,346.07 L159.42,343.17 L161.36,340.30 L163.34,337.47 L165.37,334.66 L167.46,331.89 L169.59,329.16 L171.78,326.46 Z" fill="#a88200" stroke="#a88200" stroke-width="0.7" stroke-linejoin="round"/>
<path d="M381.10,402.00 L171.78,326.46 L173.42,324.48 L175.10,322.52 Z" fill="#3b66ad" stroke="#3b66ad" stroke-width="0.7" stroke-linejoin="round"/>
<path d="M381.10,402.00 L175.10,322.52 L177.37,319.94 L179.69,317.40 L182.05,314.88 L184.45,312.41 L186.89,309.97 L189.38,307.57 L191.90,305.20 L194.47,302.87 L197.07,300.58 L199.71,298.33 L202.38,296.11 L205.10,293.94 L207.84,291.80 L210.62,289.69 L213.44,287.63 L216.29,285.61 L219.16,283.62 L222.08,281.68 L225.02,279.77 L227.99,277.90 L230.99,276.07 L234.01,274.29 L237.07,272.54 L240.15,270.83 L243.26,269.16 L246.39,267.53 L249.54,265.94 L252.73,264.39 L255.93,262.89 L259.15,261.42 L262.40,259.99 L265.67,258.61 L268.96,257.26 L272.27,255.96 L275.60,254.69 L278.94,253.47 L282.31,252.29 L285.69,251.15 L289.08,250.05 L292.50,248.99 L295.92,247.98 L299.37,247.00 L302.82,246.06 L306.29,245.17 L309.77,244.32 L313.27,243.51 L316.77,242.74 L320.29,242.01 L323.81,241.33 L327.35,240.68 L330.89,240.08 L334.44,239.52 L338.00,239.00 L341.57,238.52 L345.14,238.08 L348.72,237.69 L352.31,237.33 L355.89,237.02 L359.49,236.75 L363.08,236.52 L366.68,236.33 L370.29,236.19 L373.89,236.08 L377.49,236.02 L381.10,236.00 Z" fill="#43682B" stroke="#43682B" stroke-width="0.7" stroke-linejoin="round"/>
<ellipse cx="381.1" cy="437.8" rx="251.0" ry="201.8" fill="url(#lit)"/>
<g mask="url(#bm)"><ellipse cx="381.1" cy="437.8" rx="251.0" ry="201.8" fill="url(#rimW)" mask="url(#dm)"/></g>
<text x="304.30" y="127.60" font-size="22.46" font-weight="bold" fill="#f2f2f2" textLength="151.67" lengthAdjust="spacingAndGlyphs" letter-spacing="1.57">STATE OF MARYLAND</text>
<text x="331.00" y="160.00" font-size="23.19" font-weight="bold" fill="#f2f2f2" textLength="99.63" lengthAdjust="spacingAndGlyphs" letter-spacing="1.62">AUGUST 2023</text>
<text x="64.00" y="185.60" font-size="13.48" font-weight="normal" fill="#d9d9d9" textLength="88.08" lengthAdjust="spacingAndGlyphs">Asset Backed Securities</text>
<text x="102.70" y="205.50" font-size="13.48" font-weight="normal" fill="#d9d9d9" textLength="11.20" lengthAdjust="spacingAndGlyphs">0%</text>
<text x="87.10" y="229.70" font-size="13.48" font-weight="normal" fill="#d9d9d9" textLength="64.18" lengthAdjust="spacingAndGlyphs">Corporate Note -</text>
<text x="104.50" y="250.00" font-size="13.48" font-weight="normal" fill="#d9d9d9" textLength="27.79" lengthAdjust="spacingAndGlyphs">30/360</text>
<text x="113.10" y="268.60" font-size="13.48" font-weight="normal" fill="#d9d9d9" textLength="10.10" lengthAdjust="spacingAndGlyphs">2%</text>
<text x="53.50" y="292.40" font-size="13.48" font-weight="normal" fill="#d9d9d9" textLength="74.01" lengthAdjust="spacingAndGlyphs">Commercial Paper -</text>
<text x="60.70" y="312.90" font-size="13.48" font-weight="normal" fill="#d9d9d9" textLength="59.00" lengthAdjust="spacingAndGlyphs">Interest Bearing</text>
<text x="85.00" y="331.40" font-size="13.48" font-weight="normal" fill="#d9d9d9" textLength="10.20" lengthAdjust="spacingAndGlyphs">1%</text>
<text x="54.30" y="355.70" font-size="13.48" font-weight="normal" fill="#d9d9d9" textLength="82.42" lengthAdjust="spacingAndGlyphs">Certificates of Deposit</text>
<text x="91.30" y="376.20" font-size="13.48" font-weight="normal" fill="#d9d9d9" textLength="9.70" lengthAdjust="spacingAndGlyphs">0%</text>
<text x="55.60" y="418.40" font-size="13.48" font-weight="normal" fill="#d9d9d9" textLength="63.69" lengthAdjust="spacingAndGlyphs">Treasury Coupon</text>
<text x="69.50" y="437.70" font-size="13.48" font-weight="normal" fill="#d9d9d9" textLength="36.51" lengthAdjust="spacingAndGlyphs">Securities</text>
<text x="81.60" y="457.00" font-size="13.48" font-weight="normal" fill="#d9d9d9" textLength="11.60" lengthAdjust="spacingAndGlyphs">1%</text>
<text x="65.00" y="492.80" font-size="13.48" font-weight="normal" fill="#d9d9d9" textLength="27.41" lengthAdjust="spacingAndGlyphs">Federal</text>
<text x="52.60" y="512.60" font-size="13.48" font-weight="normal" fill="#d9d9d9" textLength="51.51" lengthAdjust="spacingAndGlyphs">Agency Disc. -</text>
<text x="65.00" y="532.00" font-size="13.48" font-weight="normal" fill="#d9d9d9" textLength="26.89" lengthAdjust="spacingAndGlyphs">At Cost</text>
<text x="73.00" y="550.90" font-size="13.48" font-weight="normal" fill="#d9d9d9" textLength="10.80" lengthAdjust="spacingAndGlyphs">1%</text>
<text x="353.70" y="204.50" font-size="13.48" font-weight="normal" fill="#d9d9d9" textLength="93.48" lengthAdjust="spacingAndGlyphs">Repurchase Agreement -</text>
<text x="381.80" y="224.00" font-size="13.48" font-weight="normal" fill="#d9d9d9" textLength="36.10" lengthAdjust="spacingAndGlyphs">Overnight</text>
<text x="394.90" y="242.70" font-size="13.48" font-weight="normal" fill="#d9d9d9" textLength="11.30" lengthAdjust="spacingAndGlyphs">6%</text>
<text x="245.10" y="290.00" font-size="13.48" font-weight="normal" fill="#dcdcdc" textLength="80.68" lengthAdjust="spacingAndGlyphs">Money Market Funds</text>
<text x="278.00" y="309.30" font-size="13.48" font-weight="normal" fill="#dcdcdc" textLength="15.11" lengthAdjust="spacingAndGlyphs">18%</text>
<text x="451.40" y="325.80" font-size="13.48" font-weight="normal" fill="#f0d4b4" textLength="114.70" lengthAdjust="spacingAndGlyphs">Repurchase Agreement - Term</text>
<text x="501.90" y="344.50" font-size="13.48" font-weight="normal" fill="#f0d4b4" textLength="15.41" lengthAdjust="spacingAndGlyphs">15%</text>
<text x="501.80" y="455.90" font-size="13.48" font-weight="normal" fill="#e6e6e6" textLength="120.00" lengthAdjust="spacingAndGlyphs">Commercial Paper Disc. -At Cost</text>
<text x="554.50" y="476.50" font-size="13.48" font-weight="normal" fill="#e6e6e6" textLength="15.51" lengthAdjust="spacingAndGlyphs">23%</text>
<text x="180.90" y="546.00" font-size="13.48" font-weight="normal" fill="#f3da8a" textLength="88.10" lengthAdjust="spacingAndGlyphs">Federal Agency Coupon</text>
<text x="207.40" y="565.80" font-size="13.48" font-weight="normal" fill="#f3da8a" textLength="35.81" lengthAdjust="spacingAndGlyphs">Securities</text>
<text x="217.50" y="584.20" font-size="13.48" font-weight="normal" fill="#f3da8a" textLength="15.61" lengthAdjust="spacingAndGlyphs">29%</text>
<text x="151.00" y="385.10" font-size="13.48" font-weight="normal" fill="#dcdcdc" textLength="57.58" lengthAdjust="spacingAndGlyphs">SupraNationals</text>
<text x="174.00" y="404.60" font-size="13.48" font-weight="normal" fill="#dcdcdc" textLength="11.20" lengthAdjust="spacingAndGlyphs">4%</text>
<polyline points="153.5,185.5 158.5,185.5 174.5,323" fill="none" stroke="#a6a6a6" stroke-width="1"/>
<polyline points="124.5,268.5 131,268.5 163,339.5" fill="none" stroke="#a6a6a6" stroke-width="1"/>
<polyline points="121.7,312 125,312 152.3,355.7" fill="none" stroke="#a6a6a6" stroke-width="1"/>
<polyline points="138.6,355 141.5,355 149.4,359.6" fill="none" stroke="#a6a6a6" stroke-width="1"/>
<polyline points="121.3,418.8 127.8,418.8 131.5,416.5" fill="none" stroke="#a6a6a6" stroke-width="1"/>
<polyline points="111.7,493.6 116.5,493.6 129.9,428" fill="none" stroke="#a6a6a6" stroke-width="1"/>
<polyline points="418.4,229 418.4,238.5" fill="none" stroke="#a6a6a6" stroke-width="1"/>
<rect x="101.2" y="837.4" width="6" height="8.4" fill="#4a7bd0"/>
<text x="108.60" y="846.00" font-size="12.46" font-weight="normal" fill="#d9d9d9" textLength="125.11" lengthAdjust="spacingAndGlyphs">Repurchase Agreement - Overnight</text>
<rect x="242.9" y="837.4" width="6" height="8.4" fill="#ED7D31"/>
<text x="250.20" y="846.00" font-size="12.46" font-weight="normal" fill="#d9d9d9" textLength="107.60" lengthAdjust="spacingAndGlyphs">Repurchase Agreement - Term</text>
<rect x="383.3" y="837.4" width="6" height="8.4" fill="#b0b0b0"/>
<text x="390.60" y="846.00" font-size="12.46" font-weight="normal" fill="#d9d9d9" textLength="114.30" lengthAdjust="spacingAndGlyphs">Commercial Paper Disc. -At Cost</text>
<rect x="525" y="837.4" width="6" height="8.4" fill="#FFC000"/>
<text x="532.20" y="846.00" font-size="12.46" font-weight="normal" fill="#d9d9d9" textLength="120.29" lengthAdjust="spacingAndGlyphs">Federal Agency Coupon Securities</text>
<rect x="101.2" y="865.8" width="6" height="8.4" fill="#5B9BD5"/>
<text x="108.60" y="874.40" font-size="12.46" font-weight="normal" fill="#d9d9d9" textLength="103.29" lengthAdjust="spacingAndGlyphs">Federal Agency Disc. -At Cost</text>
<rect x="242.9" y="865.8" width="6" height="8.4" fill="#70AD47"/>
<text x="250.20" y="874.40" font-size="12.46" font-weight="normal" fill="#d9d9d9" textLength="96.78" lengthAdjust="spacingAndGlyphs">Treasury Coupon Securities</text>
<rect x="383.3" y="865.8" width="6" height="8.4" fill="#264478"/>
<text x="390.60" y="874.40" font-size="12.46" font-weight="normal" fill="#d9d9d9" textLength="54.58" lengthAdjust="spacingAndGlyphs">SupraNationals</text>
<rect x="525" y="865.8" width="6" height="8.4" fill="#997300"/>
<text x="532.20" y="874.40" font-size="12.46" font-weight="normal" fill="#d9d9d9" textLength="78.52" lengthAdjust="spacingAndGlyphs">Certificates of Deposit</text>
<rect x="101.2" y="893.6999999999999" width="6" height="8.4" fill="#636363"/>
<text x="108.60" y="902.30" font-size="12.46" font-weight="normal" fill="#d9d9d9" textLength="128.39" lengthAdjust="spacingAndGlyphs">Commercial Paper - Interest Bearing</text>
<rect x="242.9" y="893.6999999999999" width="6" height="8.4" fill="#b08800"/>
<text x="250.20" y="902.30" font-size="12.46" font-weight="normal" fill="#d9d9d9" textLength="87.80" lengthAdjust="spacingAndGlyphs">Corporate Note - 30/360</text>
<rect x="383.3" y="893.6999999999999" width="6" height="8.4" fill="#255E91"/>
<text x="390.60" y="902.30" font-size="12.46" font-weight="normal" fill="#d9d9d9" textLength="83.08" lengthAdjust="spacingAndGlyphs">Asset Backed Securities</text>
<rect x="525" y="893.6999999999999" width="6" height="8.4" fill="#43682B"/>
<text x="532.20" y="902.30" font-size="12.46" font-weight="normal" fill="#d9d9d9" textLength="76.08" lengthAdjust="spacingAndGlyphs">Money Market Funds</text>
<text x="360.70" y="56.20" font-size="18.26" font-weight="normal" fill="#000" textLength="48.38" lengthAdjust="spacingAndGlyphs" stroke="#000" stroke-width="0.25">Maryland</text>
<text x="327.10" y="84.70" font-size="17.39" font-weight="normal" fill="#000" textLength="115.98" lengthAdjust="spacingAndGlyphs" stroke="#000" stroke-width="0.25">Portfolio Management</text>
<text x="643.20" y="53.60" font-size="15.94" font-weight="normal" fill="#000" textLength="77.08" lengthAdjust="spacingAndGlyphs" stroke="#000" stroke-width="0.25">State of Maryland</text>
<text x="664.80" y="932.00" font-size="14.49" font-weight="normal" fill="#000" textLength="56.12" lengthAdjust="spacingAndGlyphs" stroke="#000" stroke-width="0.25">Portfolio MD</text>
<text x="709.90" y="957.10" font-size="14.49" font-weight="normal" fill="#000" textLength="10.99" lengthAdjust="spacingAndGlyphs" stroke="#000" stroke-width="0.25">AC</text>
<text x="662.40" y="980.50" font-size="14.49" font-weight="normal" fill="#000" textLength="58.48" lengthAdjust="spacingAndGlyphs" stroke="#000" stroke-width="0.25">PPM Bktypep</text>
<text x="49.80" y="979.90" font-size="14.49" font-weight="normal" fill="#000" textLength="101.61" lengthAdjust="spacingAndGlyphs" stroke="#000" stroke-width="0.25">Run: 10/16/2023 11:33</text>
</svg></body></html>
